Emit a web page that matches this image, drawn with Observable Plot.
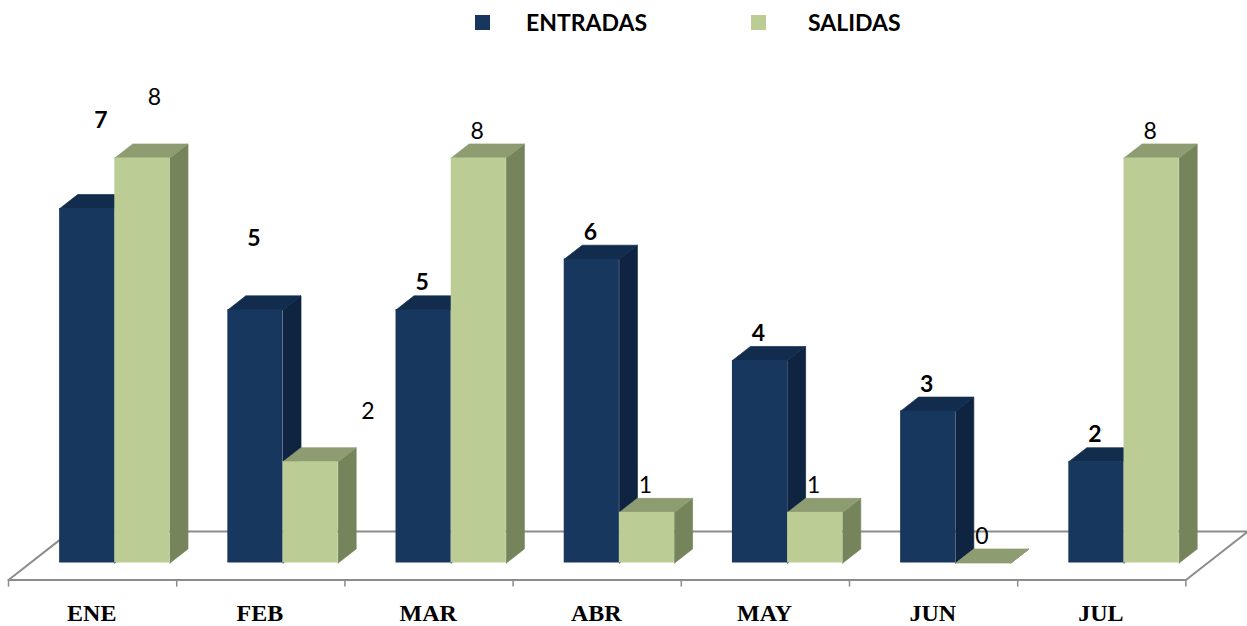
<!DOCTYPE html>
<html><head><meta charset="utf-8">
<script src="https://cdn.jsdelivr.net/npm/d3@7"></script>
<script src="https://cdn.jsdelivr.net/npm/@observablehq/plot@0.6"></script>
<style>
html,body{margin:0;padding:0;background:#fff;overflow:hidden}
#legend{position:relative;height:44px;width:1247px;font:bold 23px Lato,"Open Sans",sans-serif;color:#000}
#legend i{position:absolute;top:15px;width:15px;height:15px}
#legend span{position:absolute;top:8px;line-height:28px}
svg{display:block}
</style></head><body>
<div id="legend">
<i style="left:475px;background:#17375E"></i><span style="left:526px">ENTRADAS</span>
<i style="left:751px;background:#BBCD95"></i><span style="left:808px">SALIDAS</span>
</div>
<div id="chart"></div>
<script>
const months = ["ENE","FEB","MAR","ABR","MAY","JUN","JUL"];
const entradas = [7,5,5,6,4,3,2];
const salidas = [8,2,8,1,1,0,8];
// hand-placed data labels in the original: [month index, extra x (months), extra y (value units)]
const entradasLabelNudge = [[0,0.09,1.2],[1,0,0.87]];
const salidasLabelNudge = [[0,0.08,0.67],[1,0.35,0.47]];

const BAR = 0.328, START = 0.304, DX = 0.107, DY = 0.277, LIFT = 0.53, LABEL_SHIFT = -0.009;
const FLOOR = -0.336, BACK = 0.62, DEPTH = 0.368;

function faces(values, off){
  const side = [], top = [], front = [];
  values.forEach((v,i)=>{
    const a = i+START+off*BAR, b = a+BAR;
    const add = (arr,id,pts)=>pts.forEach(([x,y])=>arr.push({id:i+id,x,y}));
    add(side,"s",[[b,0],[b+DX,DY],[b+DX,v+DY],[b,v],[b,0]]);
    add(top,"t",[[a,v],[a+DX,v+DY],[b+DX,v+DY],[b,v],[a,v]]);
    front.push({x1:a,x2:b,y1:0,y2:v});
  });
  return {side,top,front};
}
function labels(values, off, nudges){
  return values.map((v,i)=>{
    const n = nudges.find(d=>d[0]===i) || [i,0,0];
    return {x:i+START+off*BAR+BAR/2+LABEL_SHIFT+n[1], y:v+LIFT+n[2], t:String(v)};
  });
}
const series = [
  {f:faces(entradas,0), side:"#0F2440", top:"#122C4E", front:"#17375E"},
  {f:faces(salidas,1), side:"#76845C", top:"#8E9C72", front:"#BBCD95"}
];
const floor = [{x:0,y:FLOOR},{x:7,y:FLOOR},{x:7+DEPTH,y:BACK},{x:DEPTH,y:BACK},{x:0,y:FLOOR}];
const ticks = d3.range(months.length+1);

const marks = [
  Plot.line(floor,{x:"x",y:"y",stroke:"#8C8C8C",strokeWidth:2}),
  Plot.ruleX(ticks,{x:d=>d,y1:FLOOR,y2:FLOOR-0.14,stroke:"#8C8C8C",strokeWidth:1.5})
];
for(const s of series){
  marks.push(
    Plot.line(s.f.side,{x:"x",y:"y",z:"id",fill:s.side,stroke:s.side,strokeWidth:0.7}),
    Plot.line(s.f.top,{x:"x",y:"y",z:"id",fill:s.top,stroke:s.top,strokeWidth:0.7}),
    Plot.rect(s.f.front,{x1:"x1",x2:"x2",y1:"y1",y2:"y2",fill:s.front})
  );
}
marks.push(
  Plot.text(labels(entradas,0,entradasLabelNudge),{x:"x",y:"y",text:"t",fontSize:23,fontWeight:"bold",fontFamily:"Lato, sans-serif",fill:"#000"}),
  Plot.text(labels(salidas,1,salidasLabelNudge),{x:"x",y:"y",text:"t",fontSize:23,fontFamily:"Lato, sans-serif",fill:"#000"}),
  Plot.text(months,{x:(d,i)=>i+0.495,y:()=>-1,text:d=>d,fontSize:24,fontWeight:"bold",fontFamily:"'Liberation Serif', serif",fill:"#000"})
);
const chart = Plot.plot({
  width:1247,height:582,margin:0,
  style:{background:"#fff"},
  x:{type:"linear",domain:[0,7],range:[8,1185.4],axis:null},
  y:{type:"linear",domain:[0,8],range:[518.5,113.5],axis:null},
  marks
});
document.getElementById("chart").appendChild(chart);
</script>
</body></html>
